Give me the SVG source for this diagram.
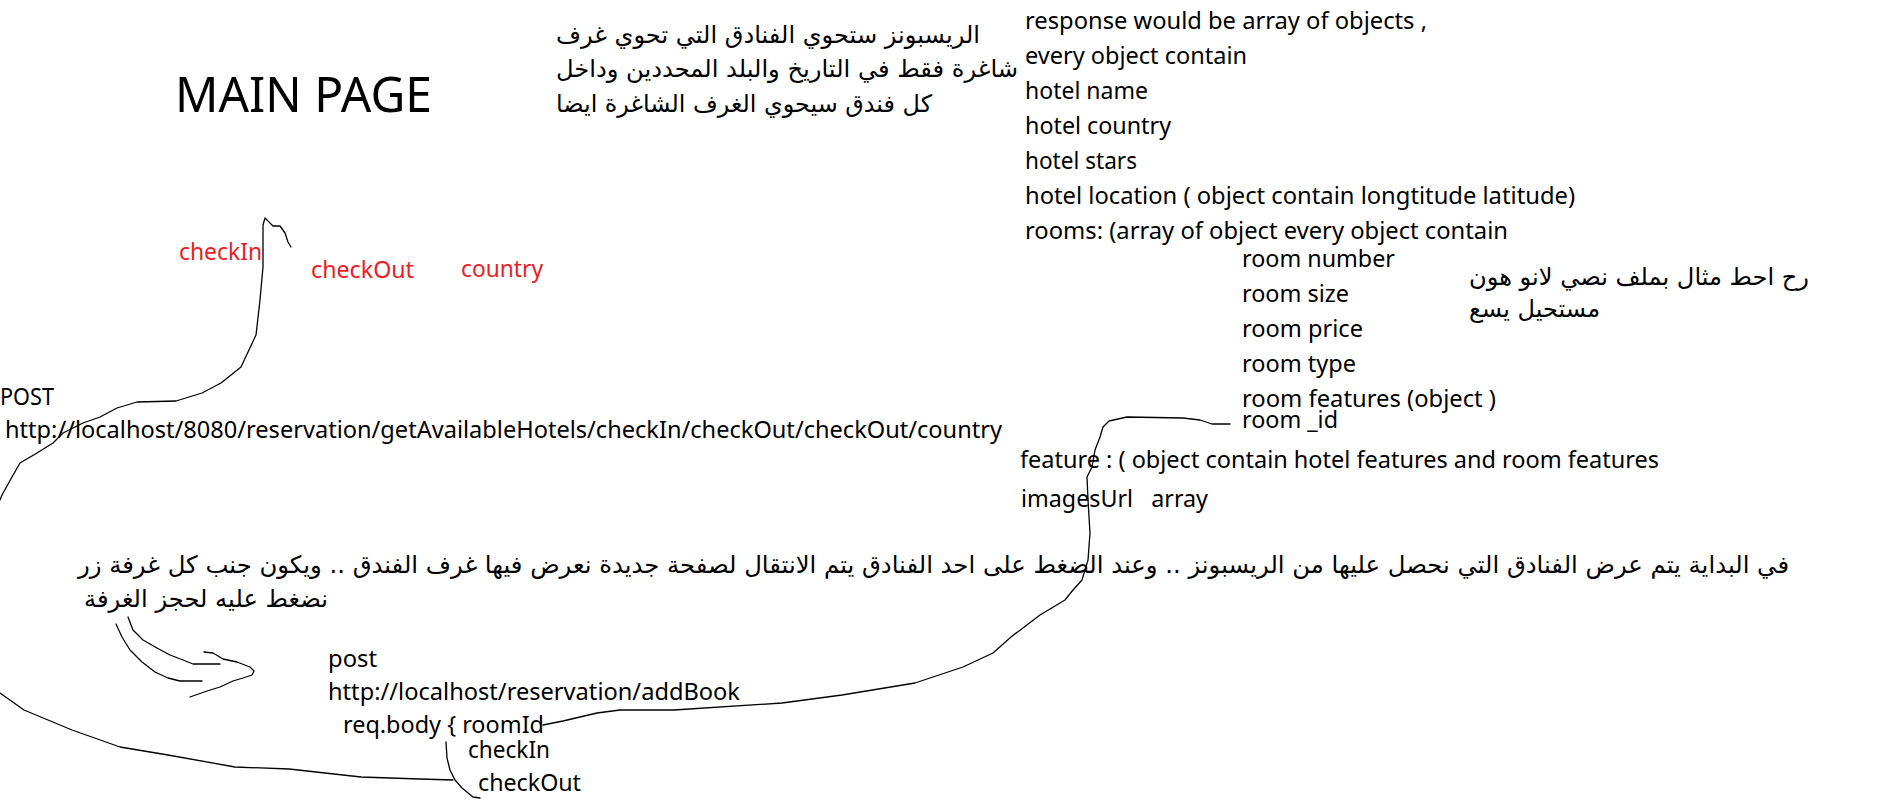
<svg xmlns="http://www.w3.org/2000/svg" width="1886" height="807" viewBox="0 0 1886 807">
<style>
.t{font-family:"Noto Sans","Open Sans",sans-serif;font-size:23px;fill:#000}
.r{fill:#ed1c24}
.ar{font-family:"DejaVu Sans",sans-serif;font-size:24px;fill:#000}
.big{font-size:50px}
.c{fill:none;stroke:#000;stroke-width:1.3;stroke-linejoin:round;stroke-linecap:round}
</style>
<rect width="1886" height="807" fill="#fff"/>
<g id="main-page"><text class="t big" x="175" y="112" textLength="257" lengthAdjust="spacingAndGlyphs">MAIN PAGE</text></g>
<g id="note-top">
<text class="ar" x="556" y="43" textLength="424" lengthAdjust="spacingAndGlyphs">الريسبونز ستحوي الفنادق التي تحوي غرف</text>
<text class="ar" x="556" y="77" textLength="462" lengthAdjust="spacingAndGlyphs">شاغرة فقط في التاريخ والبلد المحددين وداخل</text>
<text class="ar" x="556" y="112" textLength="376" lengthAdjust="spacingAndGlyphs">كل فندق سيحوي الغرف الشاغرة ايضا</text>
</g>
<g id="response">
<text class="t" x="1025" y="29" textLength="402" lengthAdjust="spacingAndGlyphs">response would be array of objects ,</text>
<text class="t" x="1025" y="64" textLength="222" lengthAdjust="spacingAndGlyphs">every object contain</text>
<text class="t" x="1025" y="99" textLength="123" lengthAdjust="spacingAndGlyphs">hotel name</text>
<text class="t" x="1025" y="134" textLength="146" lengthAdjust="spacingAndGlyphs">hotel country</text>
<text class="t" x="1025" y="169" textLength="112" lengthAdjust="spacingAndGlyphs">hotel stars</text>
<text class="t" x="1025" y="204" textLength="550" lengthAdjust="spacingAndGlyphs">hotel location ( object contain longtitude latitude)</text>
<text class="t" x="1025" y="239" textLength="483" lengthAdjust="spacingAndGlyphs">rooms: (array of object every object contain</text>
<text class="t" x="1242" y="267" textLength="153" lengthAdjust="spacingAndGlyphs">room number</text>
<text class="t" x="1242" y="302" textLength="107" lengthAdjust="spacingAndGlyphs">room size</text>
<text class="t" x="1242" y="337" textLength="121" lengthAdjust="spacingAndGlyphs">room price</text>
<text class="t" x="1242" y="372" textLength="114" lengthAdjust="spacingAndGlyphs">room type</text>
<text class="t" x="1242" y="407" textLength="254" lengthAdjust="spacingAndGlyphs">room features (object )</text>
<text class="t" x="1242" y="428" textLength="96" lengthAdjust="spacingAndGlyphs">room _id</text>
<text class="t" x="1020" y="468" textLength="639" lengthAdjust="spacingAndGlyphs">feature : ( object contain hotel features and room features</text>
<text class="t" x="1021" y="507" textLength="187" lengthAdjust="spacingAndGlyphs" xml:space="preserve">imagesUrl   array</text>
</g>
<g id="note-right">
<text class="ar" x="1469" y="285" textLength="340" lengthAdjust="spacingAndGlyphs">رح احط مثال بملف نصي لانو هون</text>
<text class="ar" x="1469" y="317" textLength="131" lengthAdjust="spacingAndGlyphs">مستحيل يسع</text>
</g>
<g id="params">
<text class="t r" x="179" y="260" textLength="83" lengthAdjust="spacingAndGlyphs">checkIn</text>
<text class="t r" x="311" y="278" textLength="103" lengthAdjust="spacingAndGlyphs">checkOut</text>
<text class="t r" x="461" y="277" textLength="82" lengthAdjust="spacingAndGlyphs">country</text>
</g>
<g id="get-hotels">
<text class="t" x="0" y="405" textLength="54" lengthAdjust="spacingAndGlyphs">POST</text>
<text class="t" x="5" y="438" textLength="997" lengthAdjust="spacingAndGlyphs">http://localhost/8080/reservation/getAvailableHotels/checkIn/checkOut/checkOut/country</text>
</g>
<g id="note-bottom">
<text class="ar" x="78" y="573" textLength="1711" lengthAdjust="spacingAndGlyphs">في البداية يتم عرض الفنادق التي نحصل عليها من الريسبونز .. وعند الضغط على احد الفنادق يتم الانتقال لصفحة جديدة نعرض فيها غرف الفندق .. ويكون جنب كل غرفة زر</text>
<text class="ar" x="84" y="607" textLength="244" lengthAdjust="spacingAndGlyphs">نضغط عليه لحجز الغرفة</text>
</g>
<g id="add-book">
<text class="t" x="328" y="667" textLength="49" lengthAdjust="spacingAndGlyphs">post</text>
<text class="t" x="328" y="700" textLength="412" lengthAdjust="spacingAndGlyphs">http://localhost/reservation/addBook</text>
<text class="t" x="343" y="733" textLength="201" lengthAdjust="spacingAndGlyphs">req.body { roomId</text>
<text class="t" x="468" y="758" textLength="82" lengthAdjust="spacingAndGlyphs">checkIn</text>
<text class="t" x="478" y="791" textLength="103" lengthAdjust="spacingAndGlyphs">checkOut</text>
</g>
<g id="connectors">
<polyline class="c" points="291,247 288,242 285,233 280,226 273,226 267,220 265,218 263,225 263,267 260,300 256,335 241,367 221,383 202,393 176,401 137,402 117,408 100,417 83,423 63,433 53,443 37,453 20,463 12,477 2,495 0,500"/>
<polyline class="c" points="0,693 24,710 72,730 120,747 168,755 235,767 289,769 361,777 420,779 453,780"/>
<polyline class="c" points="446,742 447,758 450,770 455,780 462,788 473,797 480,798"/>
<polyline class="c" points="543,725 563,721 580,717 597,713 620,710 674,710 782,703 842,695 915,683 963,667 993,653 1011,637 1040,615 1065,600 1073,590 1082,580 1088,560 1090,533 1088,500 1087,477 1092,467 1095,450 1100,437 1103,427 1109,421 1127,417 1183,418 1200,420 1212,424 1230,424"/>
<polyline class="c" points="128,617 133,630 143,640 157,648 170,655 183,660 193,664 220,664"/>
<polyline class="c" points="116,624 122,637 130,650 142,662 155,672 168,678 180,681 202,681"/>
<polyline class="c" points="204,652 213,653 223,659 237,662 250,667 254,671 252,675 243,678 233,681 220,687 207,691 190,697"/>
</g>
</svg>
